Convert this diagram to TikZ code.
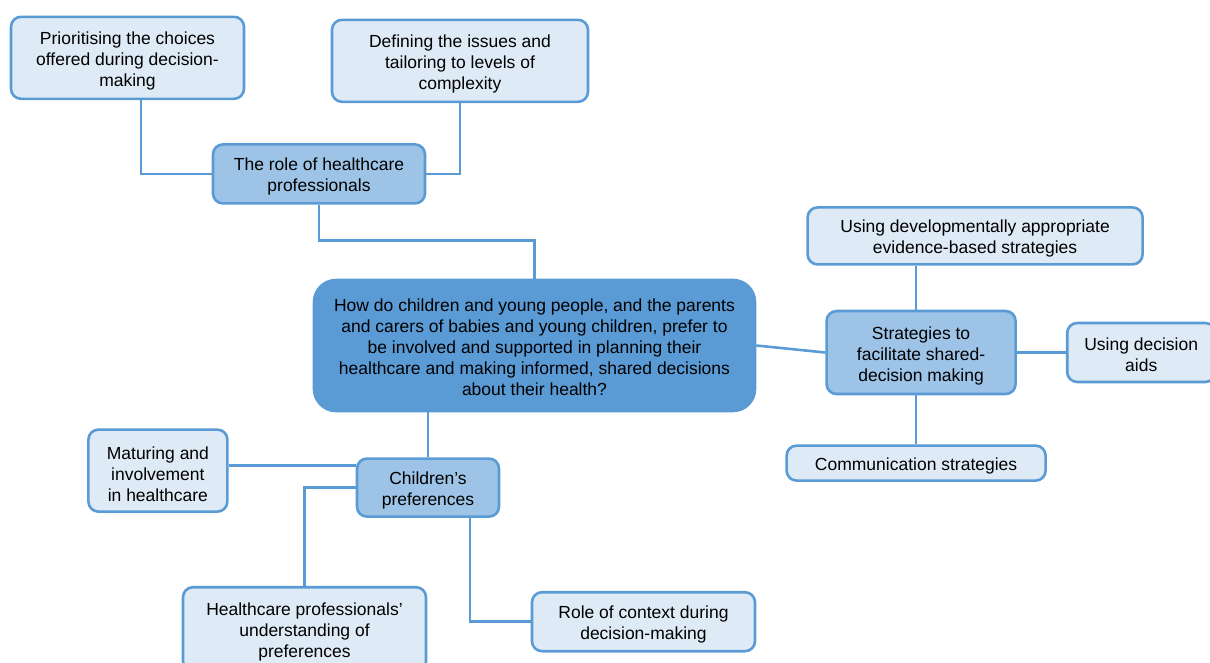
\documentclass[tikz,border=0pt]{standalone}
\usepackage{fontspec}
\setmainfont{Liberation Sans}
\usepackage{tikz}
\usetikzlibrary{positioning}
\definecolor{MapBlue}{HTML}{5B9BD5}
\definecolor{MapMid}{HTML}{9DC3E6}
\definecolor{MapLight}{HTML}{DEEBF7}
\tikzset{LeafBox/.style={%
    shape=rectangle,%
    rounded corners=10pt,%
    draw=MapBlue,%
    fill=MapLight,%
    line width=2.6pt,%
    align=center,%
    inner sep=2pt,%
    font=\fontsize{17.5}{21}\selectfont,%
}}
\tikzset{TopicBox/.style={%
    LeafBox,%
    fill=MapMid,%
}}
\tikzset{QuestionBox/.style={%
    LeafBox,%
    fill=MapBlue,%
    rounded corners=22pt,%
}}
\tikzset{OneLine/.style={text height=19pt}}
\tikzset{TwoLines/.style={text height=39pt}}
\tikzset{ThreeLines/.style={text height=61pt}}
\tikzset{FiveLines/.style={text height=101pt}}
\tikzset{LinkEdge/.style={%
    draw=MapBlue,%
    line width=2.6pt,%
}}

\begin{document}
\begin{tikzpicture}[x=1pt, y=-1pt]
    \useasboundingbox (0,0) rectangle (1210,662);

    \node[QuestionBox, FiveLines, minimum width=441pt, minimum height=131pt] (question) at (534.5,345.5) {How do children and young people, and the parents\\and carers of babies and young children, prefer to\\be involved and supported in planning their\\healthcare and making informed, shared decisions\\about their health?};
    \node[TopicBox, TwoLines, minimum width=212pt, minimum height=59pt, above=74pt of question, xshift=-215.5pt] (role) {The role of healthcare\\professionals};
    \node[LeafBox, ThreeLines, minimum width=233pt, minimum height=82pt, above=43pt of role, xshift=-191.5pt] (prio) {Prioritising the choices\\offered during decision-\\making};
    \node[LeafBox, ThreeLines, minimum width=256pt, minimum height=82pt, above=40pt of role, xshift=141pt] (issues) {Defining the issues and\\tailoring to levels of\\complexity};
    \node[TopicBox, ThreeLines, minimum width=189pt, minimum height=83pt, right=69pt of question, yshift=-7pt] (strategies) {Strategies to\\facilitate shared-\\decision making};
    \node[LeafBox, TwoLines, minimum width=335pt, minimum height=57pt, above=44pt of strategies, xshift=54pt] (devel) {Using developmentally appropriate\\evidence-based strategies};
    \node[LeafBox, TwoLines, minimum width=148pt, minimum height=59pt, right=49pt of strategies] (aids) {Using decision\\aids};
    \node[LeafBox, OneLine, minimum width=259pt, minimum height=35pt, below=49pt of strategies, xshift=-5pt] (comms) {Communication strategies};
    \node[TopicBox, TwoLines, minimum width=142pt, minimum height=58pt, below=45pt of question, xshift=-106.5pt] (children) {Children’s\\preferences};
    \node[LeafBox, ThreeLines, minimum width=139pt, minimum height=82pt, left=127pt of children, yshift=17pt] (maturing) {Maturing and\\involvement\\in healthcare};
    \node[LeafBox, ThreeLines, minimum width=243pt, minimum height=84pt, below=68pt of children, xshift=-123.5pt] (hcpview) {Healthcare professionals’\\understanding of\\preferences};
    \node[LeafBox, TwoLines, minimum width=223pt, minimum height=59pt, below=73pt of children, xshift=215.5pt] (context) {Role of context during\\decision-making};

    \draw[LinkEdge] ([xshift=13.5pt]prio.south) |- (role.west);
    \draw[LinkEdge] (issues.south) |- (role.east);
    \draw[LinkEdge] (role.south) -- ++(0,36) -| (question.north);
    \path (question.east) edge[LinkEdge] (strategies.west);
    \path (comms.north |- strategies.north) edge[LinkEdge] (comms.north |- devel.south);
    \path (strategies.east) edge[LinkEdge] (aids.west);
    \path (comms.north |- strategies.south) edge[LinkEdge] (comms.north);
    \path (children.north |- question.south) edge[LinkEdge] (children.north);
    \path ([yshift=5pt]maturing.east) edge[LinkEdge] ([yshift=22pt]children.west);
    \draw[LinkEdge] (children.west) -| (hcpview.north);
    \draw[LinkEdge] ([xshift=42pt]children.south) |- (context.west);
\end{tikzpicture}
\end{document}
